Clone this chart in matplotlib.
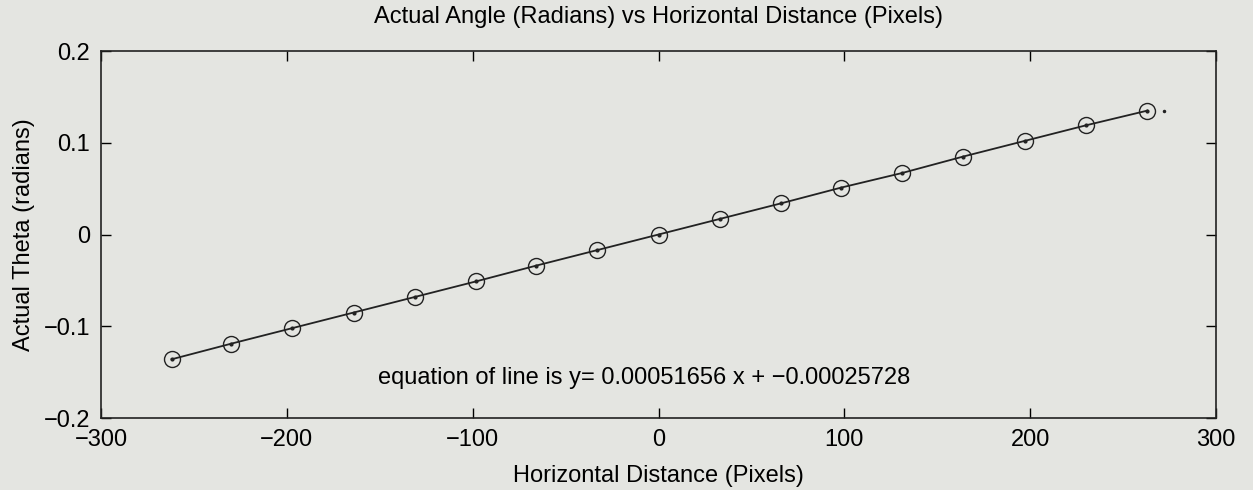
import numpy as np
import matplotlib.pyplot as plt

plt.rcParams['font.family'] = ['Liberation Sans', 'DejaVu Sans']

pixels = [-262, -230, -197, -164, -131, -98, -66, -33, 0,
          33, 66, 98, 131, 164, 197, 230, 263]
theta = [-0.136, -0.119, -0.102, -0.085, -0.068, -0.051, -0.034, -0.017, 0.0,
         0.017, 0.034, 0.051, 0.067, 0.085, 0.102, 0.119, 0.135]
slope = 0.00051656
intercept = -0.00025728
end_dot = (272, 0.135)

bg = '#e4e5e1'
fs = 17
fig = plt.figure(figsize=(12.53, 4.9), dpi=100, facecolor=bg)
ax = fig.add_axes([0.0806, 0.1469, 0.8899, 0.749])
ax.set_facecolor(bg)

ax.plot(pixels, theta, color='#222222', linewidth=1.3)
ax.plot(pixels, theta, linestyle='none', marker='o', markersize=11.5,
        markerfacecolor='none', markeredgecolor='#222222', markeredgewidth=1.0)
ax.plot(pixels, theta, linestyle='none', marker='.', markersize=4, color='#222222')
ax.plot([end_dot[0]], [end_dot[1]], linestyle='none', marker='.', markersize=3, color='#222222')

ax.text(-151, -0.156, f"equation of line is y= {slope:.8f} x + \u2212{abs(intercept):.8f}",
        fontsize=fs, va='center', ha='left')

ax.set_xlim(-300, 300)
ax.set_ylim(-0.2, 0.2)
ax.set_xticks([-300, -200, -100, 0, 100, 200, 300])
ax.set_yticks([-0.2, -0.1, 0, 0.1, 0.2])
ax.set_yticklabels(['\u22120.2', '\u22120.1', '0', '0.1', '0.2'])
ax.tick_params(direction='in', top=True, right=True, length=7, width=1,
               labelsize=fs, pad=8)
for s in ax.spines.values():
    s.set_linewidth(1.2)
    s.set_color('#222222')

ax.set_title("Actual Angle (Radians) vs Horizontal Distance (Pixels)", fontsize=fs, pad=20)
ax.set_xlabel("Horizontal Distance (Pixels)", fontsize=fs, labelpad=10)
ax.set_ylabel("Actual Theta (radians)", fontsize=fs, labelpad=6)

fig.savefig('out.png', dpi=100, facecolor=bg)
